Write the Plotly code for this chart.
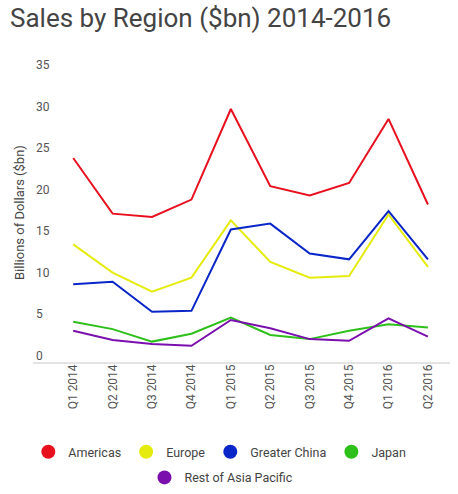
import plotly.graph_objects as go

quarters = ["Q1 2014", "Q2 2014", "Q3 2014", "Q4 2014", "Q1 2015",
            "Q2 2015", "Q3 2015", "Q4 2015", "Q1 2016", "Q2 2016"]

americas = [23.8, 17.1, 16.7, 18.8, 29.7, 20.4, 19.3, 20.8, 28.5, 18.2]
europe = [13.4, 10.0, 7.7, 9.4, 16.3, 11.3, 9.4, 9.6, 17.0, 10.7]
greater_china = [8.6, 8.9, 5.3, 5.4, 15.2, 15.9, 12.3, 11.6, 17.4, 11.6]
japan = [4.1, 3.2, 1.7, 2.65, 4.6, 2.5, 2.0, 3.0, 3.8, 3.4]
rest_of_asia = [3.0, 1.9, 1.4, 1.2, 4.3, 3.3, 2.0, 1.8, 4.5, 2.3]

series = [
    ("Americas", americas, "#e8101f", "legend"),
    ("Europe", europe, "#e5ec0d", "legend"),
    ("Greater China", greater_china, "#0a26c8", "legend"),
    ("Japan", japan, "#2ec01a", "legend"),
    ("Rest of Asia Pacific", rest_of_asia, "#7a0fae", "legend2"),
]

FONT = "Roboto, sans-serif"

fig = go.Figure()
for name, vals, color, leg in series:
    fig.add_trace(go.Scatter(x=quarters, y=vals, mode="lines", name=name,
                             line=dict(color=color, width=2), showlegend=False))
    # circle swatch for the legend
    fig.add_trace(go.Scatter(x=[None], y=[None], mode="markers", name=name,
                             marker=dict(color=color, size=14), legend=leg))

# grey baseline a little below zero, running under the tick labels
fig.add_shape(type="line", xref="paper", x0=0, x1=1, yref="y", y0=-0.88, y1=-0.88,
              line=dict(color="#c8c8c8", width=1))

fig.add_annotation(text="Billions of Dollars ($bn)", textangle=-90,
                   xref="paper", x=0, xanchor="right", xshift=-4,
                   yref="paper", y=0.5, showarrow=False,
                   font=dict(family=FONT, size=13, color="#444"))

leg_style = dict(orientation="h", xanchor="center", yanchor="top",
                 font=dict(family=FONT, size=12.5, color="#444"),
                 bgcolor="rgba(0,0,0,0)")

fig.update_layout(
    width=458, height=494,
    paper_bgcolor="white", plot_bgcolor="white",
    font=dict(family=FONT, color="#555"),
    title=dict(text="Sales by Region ($bn) 2014-2016", x=10 / 458, xanchor="left",
               xref="container", yref="container", y=1 - 18 / 494, yanchor="middle",
               font=dict(family=FONT, size=26, color="#444")),
    margin=dict(l=33, r=8, t=50, b=119, autoexpand=False),
    xaxis=dict(range=[-1.02, 9.56], showgrid=False, zeroline=False, showline=False,
               tickangle=-90, ticklabelstandoff=-14,
               tickfont=dict(size=12, color="#555")),
    yaxis=dict(range=[-2.32, 36.8], showgrid=False, zeroline=False,
               tickvals=[0, 5, 10, 15, 20, 25, 30, 35],
               ticklabelposition="inside", tickfont=dict(size=12, color="#555")),
    legend=dict(x=0.448, y=-0.191, **leg_style),
    legend2=dict(x=0.452, y=-0.27, **leg_style),
)

# drop the browser's default 8px body margin so the figure sits at the page corner
fig.write_html("out.html", config={"displayModeBar": False},
               post_script="document.body.style.margin = '0';")
